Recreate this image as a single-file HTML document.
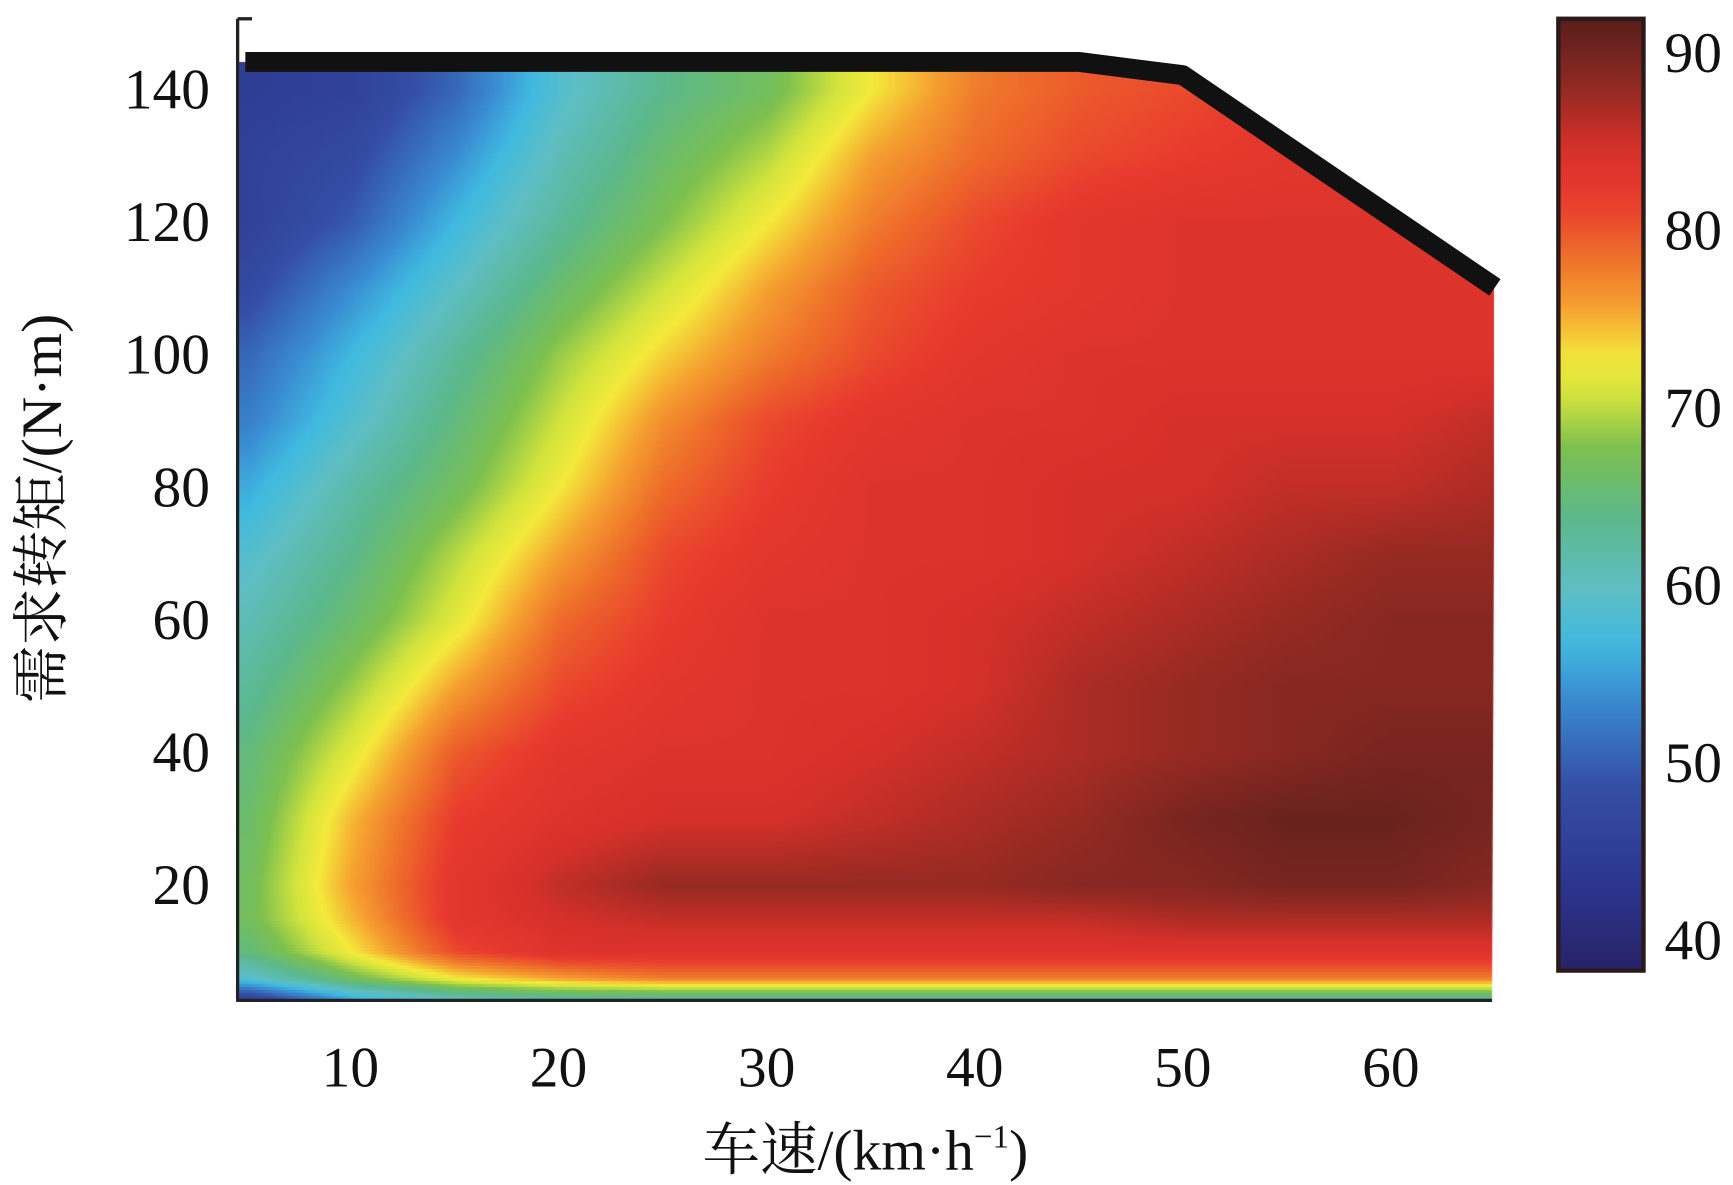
<!DOCTYPE html>
<html><head><meta charset="utf-8"><style>
html,body{margin:0;padding:0;background:#fff;}
#wrap{position:relative;width:1733px;height:1185px;}
canvas,svg{position:absolute;left:0;top:0;display:block;}
text{font-family:"Liberation Serif","Noto Serif CJK SC","Noto Sans CJK SC",serif;fill:#111;}
</style></head><body>
<div id="wrap">
<canvas id="heat" width="1733" height="1185"></canvas>
<svg id="chart" width="1733" height="1185" viewBox="0 0 1568 1072" preserveAspectRatio="none" xmlns="http://www.w3.org/2000/svg">
<defs>
<linearGradient id="cbGrad" x1="0" y1="1" x2="0" y2="0"></linearGradient>
</defs>
<polyline id="boundary" fill="none" stroke="#111" stroke-width="18" stroke-linejoin="round"/>
<g id="axes">
<line x1="215" y1="17" x2="215" y2="906" stroke="#222" stroke-width="3"/>
<line x1="215" y1="17" x2="228" y2="17" stroke="#222" stroke-width="3"/>
<line x1="214" y1="905" x2="1350" y2="905" stroke="#222" stroke-width="3"/>
</g>
<g id="xticks"></g>
<g id="yticks"></g>
<text x="783" y="1058" font-size="52" text-anchor="middle">车速/(km·h<tspan dy="-20" font-size="30">−1</tspan><tspan dy="20">)</tspan></text>
<text transform="translate(55,460) rotate(-90)" font-size="52" text-anchor="middle">需求转矩/(N·m)</text>
<rect x="1410" y="17" width="77" height="861" fill="url(#cbGrad)" stroke="#2a1a1a" stroke-width="4"/>
<g id="cbticks"></g>
</svg>
</div>
<script>
// data
const speeds = [5,10,15,20,25,30,35,40,45,50,55,60,65];
const torques = [145,140,130,120,110,100,90,80,70,60,50,40,30,20,15,10,6,3];
const eff = [
[44,45,50,58,63,66,72,77,79,80,81,82,82],
[44,45,50,58,63,66,72,77,79,80,81,82,82],
[45,47,53,60,65,69,75,78,80,81,82,82,82],
[45,49,56,62,67,72,77,80,82,83,83,83,83],
[47,53,59,65,70,75,79,81,82,83,83,83,83],
[50,56,62,68,73,77,80,82,83,83,83,83,83],
[52,58,64,70,76,80,82,83,83,84,84,84,85],
[55,61,66,72,78,81,83,83,84,84,85,85,86],
[58,63,69,75,80,82,83,83,84,85,86,87,87],
[60,65,71,78,81,83,83,84,85,86,87,88,88],
[62,68,75,80,82,83,83,84,86,87,88,88,88],
[64,71,79,82,83,83,84,85,86,87,88,89,89],
[65,74,81,83,84,84,85,86,87,89,90,90,89],
[66,75,82,85,87,87,87,87,88,88,89,89,88],
[66,74,82,84,85,85,85,85,85,86,86,86,86],
[64,72,80,83,83,83,83,83,83,83,83,83,83],
[58,66,72,75,77,77,77,77,77,77,77,77,77],
[45,55,60,62,62,62,62,62,62,62,62,62,62]];
const boundarySpeed = [5,45,50,65];
const boundaryTorque = [144,144,142,110];
const xTickLabels = [10,20,30,40,50,60];
const yTickLabels = [20,40,60,80,100,120,140];
const cbTickLabels = [40,50,60,70,80,90];

const NS="http://www.w3.org/2000/svg";
const SC=1733/1568;
const xs = v => 317 + (v-10)*18.83;
const ys = v => 920 - v*6.0;
const xinv = px => 10 + (px-317)/18.83;
const yinv = py => (920-py)/6.0;
const cbY = v => 850 - (v-40)*16.06;
const stops = [[36,[38,28,90]],[42,[44,52,140]],[48,[52,78,165]],[53,[58,140,210]],[56,[64,186,224]],[59,[94,190,196]],[63,[92,184,140]],[67,[124,192,80]],[70,[210,228,60]],[72,[244,234,60]],[75,[245,160,48]],[78,[238,106,42]],[81,[232,58,46]],[84,[214,48,42]],[87,[150,42,34]],[90,[105,34,30]],[93,[70,24,22]]];
function cmapArr(v){
  if(v<=stops[0][0]) return stops[0][1];
  for(let i=1;i<stops.length;i++){
    if(v<=stops[i][0]){const a=stops[i-1],b=stops[i],t=(v-a[0])/(b[0]-a[0]);
      return a[1].map((x,k)=>Math.round(x+(b[1][k]-x)*t));}
  }
  return stops[stops.length-1][1];
}
const cmap = v => 'rgb('+cmapArr(v).join(',')+')';
function locate(arr,v,desc){
  const n=arr.length;
  if(desc){ if(v>=arr[0]) return [0,0]; if(v<=arr[n-1]) return [n-2,1];
    for(let i=0;i<n-1;i++) if(v<=arr[i]&&v>=arr[i+1]) return [i,(arr[i]-v)/(arr[i]-arr[i+1])]; }
  else { if(v<=arr[0]) return [0,0]; if(v>=arr[n-1]) return [n-2,1];
    for(let i=0;i<n-1;i++) if(v>=arr[i]&&v<=arr[i+1]) return [i,(v-arr[i])/(arr[i+1]-arr[i])]; }
  return [0,0];
}
function value(s,t){
  const [c,fc]=locate(speeds,s,false), [r,fr]=locate(torques,t,true);
  const a=eff[r][c]*(1-fc)+eff[r][c+1]*fc, b=eff[r+1][c]*(1-fc)+eff[r+1][c+1]*fc;
  return a*(1-fr)+b*fr;
}
// heatmap on canvas
const cv=document.getElementById('heat'), ctx=cv.getContext('2d');
const poly=[[216,ys(boundaryTorque[0])]].concat(boundarySpeed.slice(1).map((s,i)=>[xs(s),ys(boundaryTorque[i+1])])).concat([[1350,905],[216,905]]);
ctx.save();
ctx.beginPath(); poly.forEach((p,i)=>i?ctx.lineTo(p[0]*SC,p[1]*SC):ctx.moveTo(p[0]*SC,p[1]*SC)); ctx.closePath(); ctx.clip();
const step=3;
for(let py=Math.floor(30*SC); py<906*SC; py+=step){
  for(let px=Math.floor(215*SC); px<1351*SC; px+=step){
    const s=xinv(px/SC), t=yinv(py/SC);
    ctx.fillStyle=cmap(value(s,t));
    ctx.fillRect(px,py,step,step);
  }
}
ctx.restore();
// boundary
document.getElementById('boundary').setAttribute('points', '222,'+ys(boundaryTorque[0])+' '+boundarySpeed.slice(1).map((s,i)=>xs(s).toFixed(1)+','+ys(boundaryTorque[i+1]).toFixed(1)).join(' '));
// ticks
const xg=document.getElementById('xticks');
xTickLabels.forEach(v=>{
  const t=document.createElementNS(NS,'text');
  t.setAttribute('x',xs(v));t.setAttribute('y',983);t.setAttribute('font-size','52');t.setAttribute('text-anchor','middle');
  t.textContent=v;
  
  
  xg.appendChild(t);
});
const yg=document.getElementById('yticks');
yTickLabels.forEach(v=>{
  const t=document.createElementNS(NS,'text');
  t.setAttribute('x',190);t.setAttribute('y',ys(v)+18);t.setAttribute('font-size','52');t.setAttribute('text-anchor','end');
  t.textContent=v;
  
  
  yg.appendChild(t);
});
// colorbar
const grad=document.getElementById('cbGrad');
const lo=37.6, hi=91.2;
for(let i=0;i<=40;i++){
  const v=lo+(hi-lo)*i/40;
  const s=document.createElementNS(NS,'stop');
  s.setAttribute('offset',(i/40*100)+'%');s.setAttribute('stop-color',cmap(v));
  grad.appendChild(s);
}
const cg=document.getElementById('cbticks');
cbTickLabels.forEach(v=>{
  const t=document.createElementNS(NS,'text');
  t.setAttribute('x',1506);t.setAttribute('y',cbY(v)+18);t.setAttribute('font-size','52');
  t.textContent=v;
  
  
  cg.appendChild(t);
});
</script>
</body></html>
